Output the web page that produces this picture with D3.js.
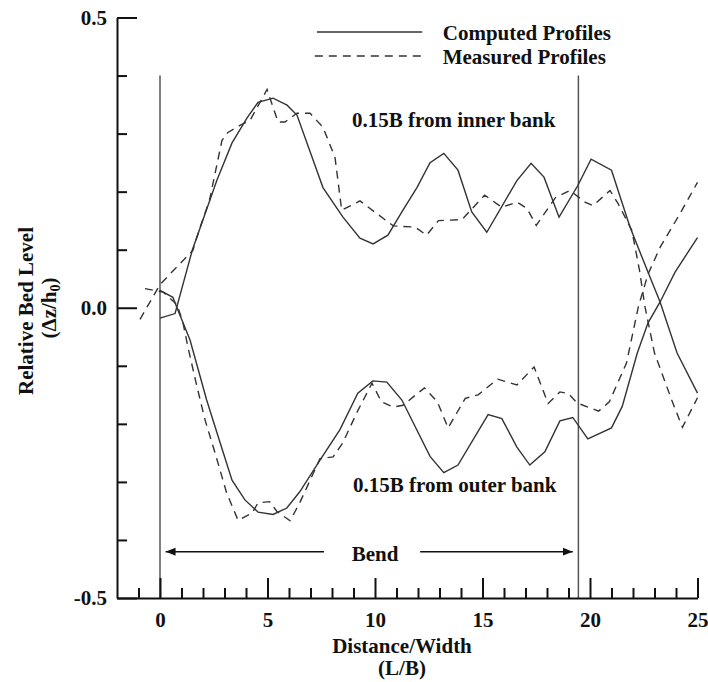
<!DOCTYPE html>
<html lang="en">
<head>
  <meta charset="UTF-8">
  <title>bed level</title>
  <script src="https://d3js.org/d3.v7.min.js" charset="utf-8"></script>
  <style>
    body { margin: 0; background: #fff; }
    text { font-family: "Liberation Serif", "Times New Roman", serif; font-weight: bold; fill: #111; }
  </style>
</head>
<body>
</body>
<script>
  // computed, 0.15B from inner bank
  var compInnerX = [0, 0.7, 1.5, 2.65, 3.35, 4.05, 4.56, 5.26, 5.91, 6.37, 7.58, 8.51, 9.3, 9.91, 10.6, 11.3, 11.95, 12.56, 13.2, 13.86, 14.5, 15.2, 16.6, 17.26, 17.86, 18.56, 19.44, 20.05, 21.0, 21.86, 22.7, 23.26, 24.05, 25.0]
  var compInnerY = [-0.018, -0.01, 0.099, 0.22, 0.284, 0.327, 0.354, 0.361, 0.349, 0.332, 0.207, 0.156, 0.12, 0.11, 0.125, 0.168, 0.207, 0.25, 0.266, 0.237, 0.165, 0.13, 0.219, 0.249, 0.225, 0.156, 0.211, 0.256, 0.237, 0.139, 0.061, 0.01, -0.078, -0.147]
  // computed, 0.15B from outer bank
  var compOuterX = [0, 0.6, 0.78, 1.4, 2.17, 2.8, 3.35, 3.95, 4.56, 5.26, 5.9, 6.5, 7.45, 8.37, 9.2, 9.9, 10.55, 11.25, 12.56, 13.2, 13.86, 15.26, 15.9, 16.6, 17.2, 17.9, 18.6, 19.2, 19.9, 21.0, 21.5, 22.2, 22.7, 23.26, 23.95, 25.0]
  var compOuterY = [0.03, 0.018, 0.001, -0.056, -0.159, -0.233, -0.297, -0.331, -0.352, -0.356, -0.345, -0.317, -0.262, -0.21, -0.147, -0.126, -0.128, -0.159, -0.256, -0.284, -0.271, -0.184, -0.191, -0.24, -0.271, -0.248, -0.195, -0.189, -0.226, -0.207, -0.17, -0.078, -0.026, 0.01, 0.061, 0.121]
  // measured, inner bank
  var measInnerX = [-0.93, 0.0, 1.53, 1.77, 2.3, 2.88, 3.16, 3.72, 4.19, 4.98, 5.49, 5.81, 6.37, 6.98, 7.58, 8.14, 8.45, 9.3, 10.85, 11.86, 12.4, 12.95, 14.05, 15.1, 15.9, 16.6, 17.07, 17.5, 18.4, 19.07, 19.77, 20.14, 20.93, 21.3, 21.95, 22.3, 22.56, 23.0, 23.8, 24.3, 25.0]
  var measInnerY = [-0.02, 0.04, 0.099, 0.128, 0.185, 0.288, 0.302, 0.314, 0.323, 0.376, 0.32, 0.32, 0.335, 0.335, 0.311, 0.259, 0.168, 0.184, 0.141, 0.139, 0.125, 0.15, 0.152, 0.194, 0.173, 0.182, 0.171, 0.142, 0.19, 0.202, 0.182, 0.176, 0.202, 0.18, 0.133, 0.065, 0.001, -0.078, -0.159, -0.206, -0.155]
  // measured, outer bank
  var measOuterX = [-0.7, 0.15, 0.8, 1.07, 1.3, 1.72, 2.1, 2.56, 3.1, 3.63, 4.28, 4.56, 5.1, 5.44, 6.05, 6.5, 7.44, 8.05, 8.5, 9.15, 9.86, 10.3, 10.85, 11.3, 12.3, 12.9, 13.4, 14.2, 14.8, 15.7, 16.6, 17.4, 18.05, 18.6, 19.0, 19.4, 20.4, 20.9, 21.7, 22.25, 22.7, 23.26, 24.2, 25.0]
  var measOuterY = [0.033, 0.027, 0.005, -0.026, -0.068, -0.136, -0.194, -0.25, -0.319, -0.366, -0.354, -0.336, -0.334, -0.351, -0.367, -0.336, -0.26, -0.257, -0.233, -0.181, -0.13, -0.162, -0.171, -0.168, -0.138, -0.162, -0.207, -0.156, -0.15, -0.123, -0.133, -0.102, -0.165, -0.145, -0.148, -0.164, -0.178, -0.162, -0.095, 0.002, 0.058, 0.104, 0.163, 0.216]

  var xMajorTicks = [0, 5, 10, 15, 20, 25]
  var xMinorTicks = [-1, 1, 2, 3, 4, 6, 7, 8, 9, 11, 12, 13, 14, 16, 17, 18, 19, 21, 22, 23, 24]
  var yMajorTicks = [-0.5, 0.0, 0.5]
  var yMinorTicks = [-0.4, -0.3, -0.2, -0.1, 0.1, 0.2, 0.3, 0.4]
  var bendLimits = [0, 19.46]

  var W = 708, H = 682
  var x = d3.scaleLinear().domain([-2, 25]).range([117, 697.5])
  var y = d3.scaleLinear().domain([-0.5, 0.5]).range([598, 17.5])

  var svg = d3.select('body').append('svg').attr('width', W).attr('height', H)

  // bend limits
  svg.selectAll('.bend').data(bendLimits).enter().append('line')
    .attr('x1', d => x(d)).attr('x2', d => x(d))
    .attr('y1', y(0.4)).attr('y2', y(-0.5))
    .attr('stroke', '#555').attr('stroke-width', 1.5)

  // axes (plain hyphen for negatives, like the original)
  var fmt = d => d.toFixed(1)
  svg.append('g').attr('transform', 'translate(' + x(-2) + ',0)')
    .call(d3.axisLeft(y).tickValues(yMajorTicks).tickSizeInner(-20).tickSizeOuter(0).tickPadding(10).tickFormat(fmt))
  svg.append('g').attr('class', 'minor').attr('transform', 'translate(' + x(-2) + ',0)')
    .call(d3.axisRight(y).tickValues(yMinorTicks).tickSize(10).tickFormat(''))
  svg.append('g').attr('transform', 'translate(0,' + y(-0.5) + ')')
    .call(d3.axisBottom(x).tickValues(xMajorTicks).tickSizeInner(-20).tickSizeOuter(0).tickPadding(14))
  svg.append('g').attr('class', 'minor').attr('transform', 'translate(0,' + y(-0.5) + ')')
    .call(d3.axisTop(x).tickValues(xMinorTicks).tickSize(10).tickFormat(''))

  svg.selectAll('.domain').attr('stroke', '#111').attr('stroke-width', 2)
  svg.selectAll('.minor .domain').remove()
  svg.selectAll('.tick line').attr('stroke', '#111').attr('stroke-width', 2)
  svg.selectAll('.tick text').attr('font-size', 21).attr('fill', '#111')
    .attr('font-family', '"Liberation Serif", "Times New Roman", serif').attr('font-weight', 'bold')

  // profiles
  var line = d3.line().x(d => x(d[0])).y(d => y(d[1]))
  var series = [
    { pts: d3.zip(compInnerX, compInnerY), dash: null },
    { pts: d3.zip(compOuterX, compOuterY), dash: null },
    { pts: d3.zip(measInnerX, measInnerY), dash: '8,6' },
    { pts: d3.zip(measOuterX, measOuterY), dash: '8,6' }
  ]
  series.forEach(function(s) {
    svg.append('path').attr('d', line(s.pts))
      .attr('fill', 'none').attr('stroke', '#333').attr('stroke-width', 1.4)
      .attr('stroke-dasharray', s.dash)
  })

  // legend
  svg.append('line').attr('x1', x(7.3)).attr('x2', x(12.2)).attr('y1', 32).attr('y2', 32)
    .attr('stroke', '#333').attr('stroke-width', 1.4)
  svg.append('line').attr('x1', x(7.2)).attr('x2', x(12.2)).attr('y1', 56).attr('y2', 56)
    .attr('stroke', '#333').attr('stroke-width', 1.4).attr('stroke-dasharray', '8,6')
  svg.append('text').attr('x', x(13.15)).attr('y', 40).attr('font-size', 21).text('Computed Profiles')
  svg.append('text').attr('x', x(13.15)).attr('y', 64).attr('font-size', 21).text('Measured Profiles')

  // annotations
  svg.append('text').attr('x', x(8.93)).attr('y', 127).attr('font-size', 21).text('0.15B from inner bank')
  svg.append('text').attr('x', x(8.98)).attr('y', 492).attr('font-size', 21).text('0.15B from outer bank')
  svg.append('text').attr('x', x(10)).attr('y', 561).attr('font-size', 21).attr('text-anchor', 'middle').text('Bend')

  var defs = svg.append('defs')
  defs.append('marker').attr('id', 'head').attr('viewBox', '0 0 10 10')
    .attr('refX', 10).attr('refY', 5).attr('markerWidth', 10).attr('markerHeight', 10)
    .attr('markerUnits', 'userSpaceOnUse').attr('orient', 'auto')
    .append('path').attr('d', 'M0,1 L10,5 L0,9 Z').attr('fill', '#111')
  var arrowY = 551.7
  svg.append('line').attr('x1', x(7.63)).attr('x2', x(0.26)).attr('y1', arrowY).attr('y2', arrowY)
    .attr('stroke', '#111').attr('stroke-width', 1.4).attr('marker-end', 'url(#head)')
  svg.append('line').attr('x1', x(12.1)).attr('x2', x(19.2)).attr('y1', arrowY).attr('y2', arrowY)
    .attr('stroke', '#111').attr('stroke-width', 1.4).attr('marker-end', 'url(#head)')

  // axis titles
  svg.append('text').attr('transform', 'translate(33,311) rotate(-90)').attr('text-anchor', 'middle')
    .attr('font-size', 21).text('Relative Bed Level')
  var yt2 = svg.append('text').attr('transform', 'translate(56,308) rotate(-90)').attr('text-anchor', 'middle')
    .attr('font-size', 21)
  yt2.append('tspan').text('(\u0394z/h')
  yt2.append('tspan').attr('font-size', 14).attr('dy', 4).text('0')
  yt2.append('tspan').attr('dy', -4).text(')')

  svg.append('text').attr('x', 402).attr('y', 653).attr('text-anchor', 'middle').attr('font-size', 21).text('Distance/Width')
  svg.append('text').attr('x', 402).attr('y', 675).attr('text-anchor', 'middle').attr('font-size', 21).text('(L/B)')
</script>
</html>
